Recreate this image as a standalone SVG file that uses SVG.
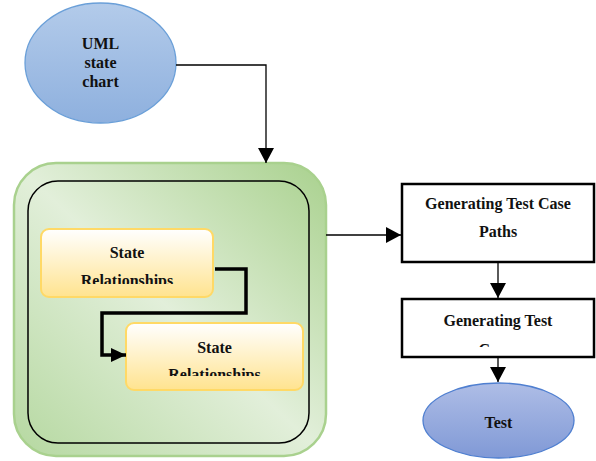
<svg xmlns="http://www.w3.org/2000/svg" width="596" height="461" viewBox="0 0 596 461">
  <style>
    .lbl { font-family: "Liberation Serif", "Times New Roman", serif; font-weight: bold; font-size: 16px; fill: #111; text-anchor: middle; }
    .thin { fill: none; stroke: #000; stroke-width: 1.3; }
    .thick { fill: none; stroke: #000; stroke-width: 3.5; }
    .box { fill: #fff; stroke: #000; stroke-width: 2.5; }
    .state { fill: url(#stateFill); stroke: #ffd966; stroke-width: 2; }
  </style>
  <defs>
    <linearGradient id="blueFill" x1="0" y1="0" x2="0" y2="1">
      <stop offset="0" stop-color="#b3cbea"/>
      <stop offset="1" stop-color="#8eb0de"/>
    </linearGradient>
    <linearGradient id="blueFill2" x1="0" y1="0" x2="0" y2="1">
      <stop offset="0" stop-color="#aebde6"/>
      <stop offset="1" stop-color="#8099d6"/>
    </linearGradient>
    <linearGradient id="greenFill" x1="1" y1="0" x2="0" y2="1">
      <stop offset="0" stop-color="#a9d18e"/>
      <stop offset="0.5" stop-color="#e2efda"/>
      <stop offset="1" stop-color="#b5d8a0"/>
    </linearGradient>
    <linearGradient id="stateFill" x1="0" y1="0" x2="0" y2="1">
      <stop offset="0" stop-color="#ffffff"/>
      <stop offset="1" stop-color="#ffe38f"/>
    </linearGradient>
    <marker id="arrow" markerUnits="userSpaceOnUse" markerWidth="16" markerHeight="16" refX="15" refY="8" orient="auto">
      <path d="M0,0 L15,8 L0,16 z" fill="#000"/>
    </marker>
    <marker id="arrowThick" markerUnits="userSpaceOnUse" markerWidth="16" markerHeight="16" refX="15" refY="7" orient="auto">
      <path d="M0,0 L15,7 L0,14 z" fill="#000"/>
    </marker>
    <clipPath id="clipS1"><rect x="41" y="229" width="172" height="55"/></clipPath>
    <clipPath id="clipS2"><rect x="126" y="323" width="177" height="53"/></clipPath>
    <clipPath id="clipG2"><rect x="402" y="299" width="192" height="48"/></clipPath>
  </defs>

  <!-- container: outer shaded frame with inner state frame -->
  <g id="container">
    <rect x="14" y="163" width="312" height="293" rx="42" ry="42" fill="url(#greenFill)" stroke="#a9d18e" stroke-width="2.5"/>
    <rect x="28" y="181" width="281" height="262" rx="30" ry="30" fill="none" stroke="#000" stroke-width="1.5"/>
  </g>

  <g id="uml">
    <ellipse cx="100.5" cy="63" rx="75.5" ry="60" fill="url(#blueFill)" stroke="#6a9fd8" stroke-width="1.3"/>
    <text class="lbl" x="100.5" y="49">UML</text>
    <text class="lbl" x="100.5" y="67.5">state</text>
    <text class="lbl" x="100.5" y="87">chart</text>
  </g>

  <g id="state1">
    <rect class="state" x="41" y="229" width="172" height="68" rx="8" ry="8"/>
    <g clip-path="url(#clipS1)">
      <text class="lbl" x="127" y="258">State</text>
      <text class="lbl" x="127" y="285.5">Relationships</text>
    </g>
  </g>

  <g id="state2">
    <rect class="state" x="126" y="323" width="177" height="67" rx="8" ry="8"/>
    <g clip-path="url(#clipS2)">
      <text class="lbl" x="214.5" y="352.5">State</text>
      <text class="lbl" x="214.5" y="379.5">Relationships</text>
    </g>
  </g>

  <g id="paths">
    <rect class="box" x="402" y="184" width="192" height="78"/>
    <text class="lbl" x="498" y="209">Generating Test Case</text>
    <text class="lbl" x="498" y="237">Paths</text>
  </g>

  <g id="cases">
    <rect class="box" x="402" y="299" width="192" height="58"/>
    <g clip-path="url(#clipG2)">
      <text class="lbl" x="498" y="326">Generating Test</text>
      <text class="lbl" x="498" y="354.5">Cases</text>
    </g>
  </g>

  <g id="test">
    <ellipse cx="498.5" cy="420.5" rx="75.5" ry="37.5" fill="url(#blueFill2)" stroke="#4f7fd0" stroke-width="1.3"/>
    <text class="lbl" x="498.5" y="427.5">Test</text>
  </g>

  <g id="connectors">
    <polyline class="thin" points="176,65 266,65 266,163" marker-end="url(#arrow)"/>
    <line class="thin" x1="326" y1="235" x2="401" y2="235" marker-end="url(#arrow)"/>
    <line class="thin" x1="498" y1="262" x2="498" y2="298" marker-end="url(#arrow)"/>
    <line class="thin" x1="498" y1="357" x2="498" y2="382" marker-end="url(#arrow)"/>
    <polyline class="thick" points="215,269 246,269 246,313 102,313 102,355 126,355" marker-end="url(#arrowThick)"/>
  </g>
</svg>
